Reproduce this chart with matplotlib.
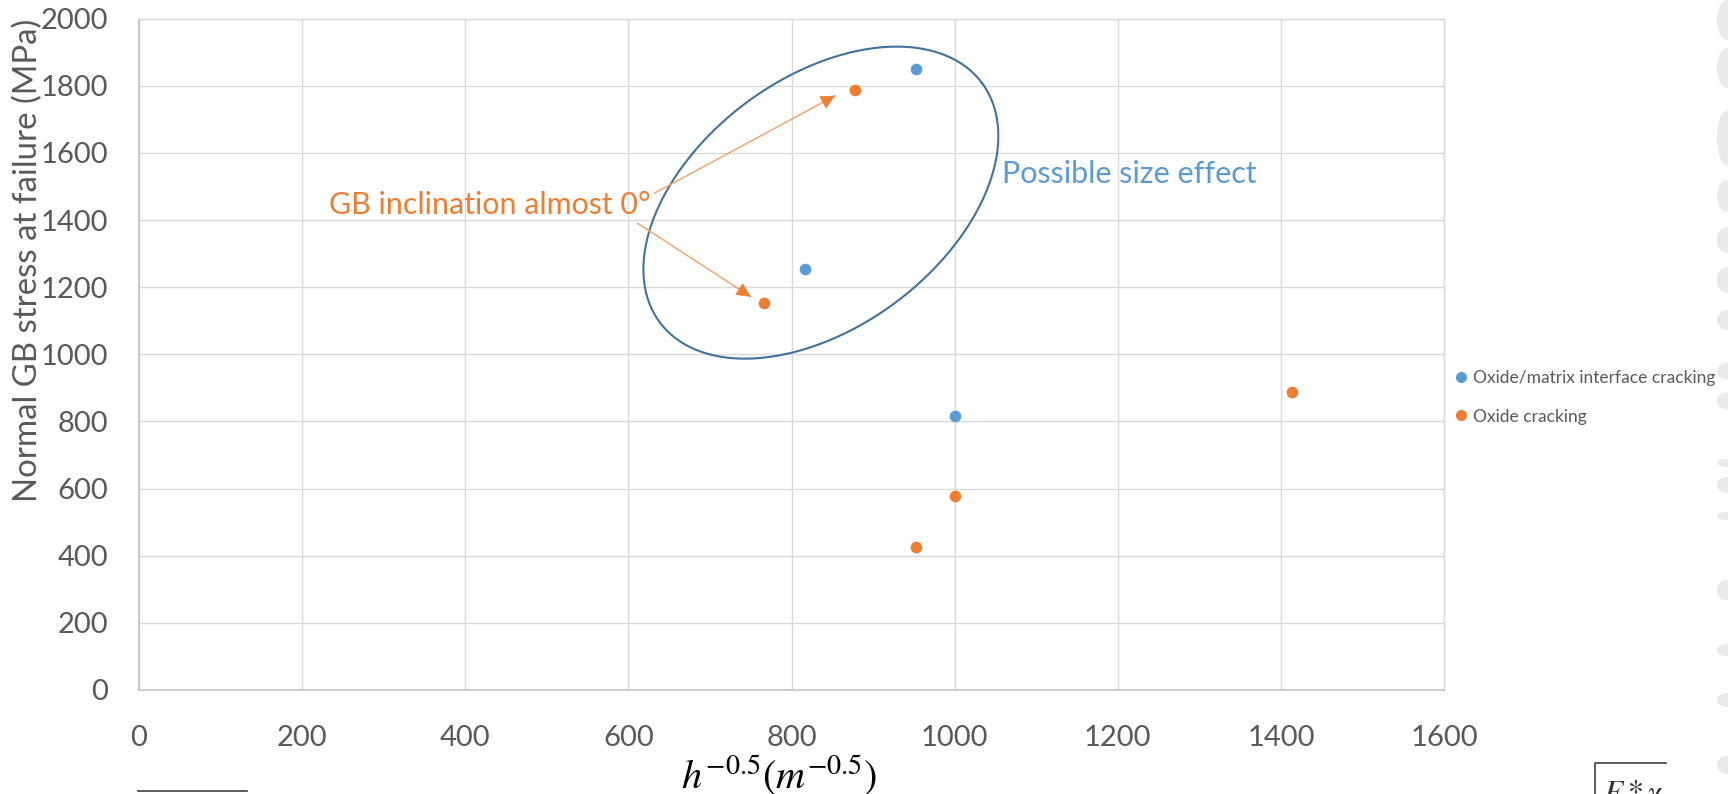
import numpy as np
import matplotlib
matplotlib.use("Agg")
import matplotlib.pyplot as plt
from matplotlib.lines import Line2D
from matplotlib.patches import Ellipse

# ---------------- data ----------------
interface_x = [953, 817, 1000]
interface_y = [1850, 1255, 817]
oxide_x = [878, 766, 1414, 1000, 953]
oxide_y = [1787, 1154, 889, 577, 427]
series_labels = ["Oxide/matrix interface cracking", "Oxide cracking"]
x_ticks = [0, 200, 400, 600, 800, 1000, 1200, 1400, 1600]
y_ticks = [0, 200, 400, 600, 800, 1000, 1200, 1400, 1600, 1800, 2000]
x_label = r"$h^{-0.5}(m^{-0.5})$"
y_label = "Normal GB stress at failure (MPa)"
note_text = "GB inclination almost 0°"
size_text = "Possible size effect"

BLUE = "#5B9BD5"
ORANGE = "#ED7D31"
GRID = "#D9D9D9"
TXT = "#595959"

plt.rcParams['font.family'] = ['Lato', 'DejaVu Sans']
plt.rcParams['mathtext.fontset'] = 'stix'

W, H = 1728, 794
fig = plt.figure(figsize=(W / 100, H / 100), dpi=100)
fig.patch.set_facecolor("white")

L, R, T, B = 139, 1444, 18.7, 690
ax = fig.add_axes([L / W, 1 - B / H, (R - L) / W, (B - T) / H])
ax.set_xlim(0, 1600)
ax.set_ylim(0, 2000)
ax.set_xticks(x_ticks)
ax.set_yticks(y_ticks)
ax.set_xticklabels([str(v) for v in x_ticks])
ax.set_yticklabels([str(v) for v in y_ticks])
ax.tick_params(length=0, labelsize=21, colors=TXT)
ax.tick_params(axis='y', pad=22)
ax.tick_params(axis='x', pad=25)
ax.grid(True, color=GRID, lw=1.0, zorder=0)
ax.set_axisbelow(True)
for s in ['top', 'right']:
    ax.spines[s].set_color(GRID)
    ax.spines[s].set_linewidth(1.0)
for s in ['left', 'bottom']:
    ax.spines[s].set_color("#BFBFBF")
    ax.spines[s].set_linewidth(1.1)

h1, = ax.plot(interface_x, interface_y, 'o', color=BLUE, ms=8.4, mew=0, zorder=3,
              label=series_labels[0])
h2, = ax.plot(oxide_x, oxide_y, 'o', color=ORANGE, ms=8.4, mew=0, zorder=3,
              label=series_labels[1])

# ellipse (defined in pixel space around a data-space centre)
cx, cy = 836, 1452
pc = ax.transData.transform((cx, cy))
a_px, b_px, th = 200.7, 124.7, np.deg2rad(36.6)
t = np.linspace(0, 2 * np.pi, 400)
dx = a_px * np.cos(t) * np.cos(th) - b_px * np.sin(t) * np.sin(th)
dy = a_px * np.cos(t) * np.sin(th) + b_px * np.sin(t) * np.cos(th)
pts = ax.transData.inverted().transform(np.column_stack([pc[0] + dx, pc[1] + dy]))
ax.plot(pts[:, 0], pts[:, 1], color="#41719C", lw=1.5, zorder=4, clip_on=False)

# annotations
ax.text(233, 1418, note_text, color=ORANGE, fontsize=21.9, va='baseline', ha='left', zorder=5)
ax.text(1058, 1511, size_text, color=BLUE, fontsize=22, va='baseline', ha='left', zorder=5)

arrows = [((631.6, 1479.8), (853.5, 1770.6)), ((611.3, 1390.4), (750.1, 1171.8))]
for (x0, y0), (x1, y1) in arrows:
    ax.annotate('', xy=(x1, y1), xytext=(x0, y0),
                arrowprops=dict(arrowstyle='-', color="#F4A572", lw=1.1,
                                shrinkA=0, shrinkB=0), zorder=5)
    p0 = ax.transData.transform((x0, y0))
    p1 = ax.transData.transform((x1, y1))
    d = (p1 - p0) / np.hypot(*(p1 - p0))
    pb = ax.transData.inverted().transform(p1 - d * 14)
    ax.annotate('', xy=(x1, y1), xytext=(pb[0], pb[1]),
                arrowprops=dict(arrowstyle='-|>,head_length=0.55,head_width=0.27',
                                color=ORANGE, lw=0.5, mutation_scale=17,
                                shrinkA=0, shrinkB=0), zorder=5)

# axis labels
fig.text(779 / W, 1 - 753 / H, x_label, fontsize=29, ha='center', va='top', color='black')
fig.text(28 / W, 1 - 260 / H, y_label, fontsize=23.8, rotation=90, ha='center', va='center',
         color=TXT)

# legend
leg = ax.legend(handles=[h1, h2], loc='upper left',
                bbox_to_anchor=(1452.7 / W, 1 - 370 / H), bbox_transform=fig.transFigure,
                frameon=False, fontsize=12.5, handlelength=1.0, handletextpad=0.15,
                labelspacing=1.3, borderpad=0, borderaxespad=0, markerscale=0.95)
for txt in leg.get_texts():
    txt.set_color(TXT)

# cropped fragments at the figure edges
fig.add_artist(Line2D([138 / W, 247 / W], [1 - 790.7 / H, 1 - 790.7 / H],
                      color="#404040", lw=1.2))
fig.add_artist(Line2D([1595 / W, 1595 / W, 1666 / W], [0, 1 - 763.3 / H, 1 - 763.3 / H],
                      color="#404040", lw=1.2))
fig.text(1603 / W, 1 - 778 / H, r"$E*\gamma$", fontsize=23, ha='left', va='top', color='#333333')

# grey blotches on the right edge
blobs = [(20, 40), (68, 40), (138, 55), (196, 32), (240, 26), (280, 26), (320, 20),
         (371, 17), (401, 17), (463, 8), (485, 16), (516, 8), (590, 20), (650, 12),
         (700, 14), (765, 18)]
for yc, hh in blobs:
    fig.add_artist(Ellipse((1727 / W, 1 - yc / H), 20 / W, hh / H,
                           color="#EAEAEA", lw=0))

fig.savefig("out.png", dpi=100, facecolor="white")
